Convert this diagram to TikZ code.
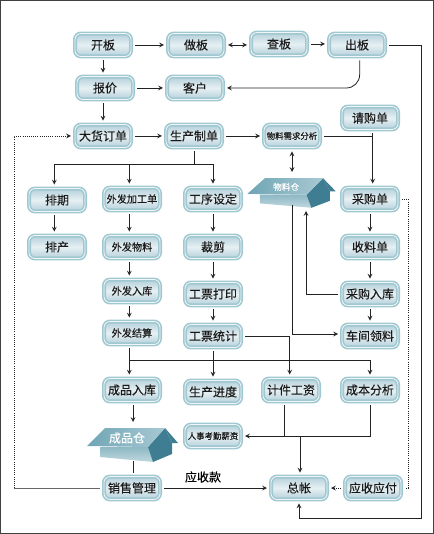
\documentclass[tikz,border=0pt]{standalone}
\usepackage{fontspec}
\setmainfont[FakeBold=0.25]{Noto Sans CJK SC}
\usetikzlibrary{arrows, positioning}
\definecolor{banedge}{HTML}{A0C8D0}
\definecolor{banfill}{HTML}{B4D0DA}
\definecolor{banmid}{HTML}{E6F0F3}
\definecolor{roofdark}{HTML}{3F7D92}
\definecolor{rooflight}{HTML}{6FA5B5}
\definecolor{wallfill}{HTML}{8DB8C4}
\definecolor{linecol}{HTML}{222222}

\begin{document}
\begin{tikzpicture}[
    x=0.75pt, y=-0.75pt,
    ban/.style={rectangle, rounded corners=4.5pt, draw=banedge, line width=1.2pt, double=white!85!banedge, double distance=0.6pt,
        top color=banfill, bottom color=banfill, middle color=banmid, minimum width=42pt, minimum height=17.2pt,
        inner sep=0pt, outer sep=3pt, text=black!90, font=\fontsize{9}{9}\selectfont},
    wai/.style={ban, font=\fontsize{7.6}{8}\selectfont},
    xiao/.style={ban, font=\fontsize{6.3}{7}\selectfont},
    lin/.style={draw=linecol, line width=0.6pt},
    arr/.style={lin, -stealth},
    shuang/.style={lin, stealth-stealth},
    dot/.style={draw=linecol, line width=0.6pt, densely dotted},
    cangku/.pic={
        \shade[top color=wallfill, bottom color=wallfill!55!white] (-33,2) -- (-33,12) -- (20,17) -- (20,2) -- cycle;
        \fill[roofdark] (20,17) -- (39,9) -- (39,-2) -- (32,-17) -- (15,2) -- cycle;
        \shade[left color=rooflight, right color=rooflight!60!white] (-46,1) -- (-28,-17) -- (32,-17) -- (15,2) -- cycle;
        \fill[roofdark] (32,-17) -- (45,-2) -- (39,-2) -- cycle;
        \node[text=white] (-label) at (-6,-7) {#1};
    }
]
\useasboundingbox (0,0) rectangle (434,534);
\draw[draw=black!75, line width=0.9pt] (0.5,0.5) rectangle (433.5,533.5);

% top rows
\node[ban] (kaiban) at (103,45) {开板};
\node[ban] (zuoban) at (196,45) {做板};
\node[ban] (chaban) at (279,44) {查板};
\node[ban] (chuban) at (357,45) {出板};
\node[ban] (baojia) at (105,88) {报价};
\node[ban] (kehu) at (195,88) {客户};
\node[ban] (dahuo) at (103,136) {大货订单};
\node[ban] (shengchan) at (194,136) {生产制单};
\node[xiao] (xuqiu) at (292,136) {物料需求分析};
\node[ban] (qinggou) at (370,118) {请购单};

% columns
\node[ban] (paiqi) at (57,200) {排期};
\node[ban] (paichan) at (57,247) {排产};
\node[wai] (jiagong) at (132,199) {外发加工单};
\node[wai] (wuliao) at (132,247) {外发物料};
\node[wai] (wairu) at (132,291) {外发入库};
\node[wai] (jiesuan) at (132,333) {外发结算};
\node[ban] (gongxu) at (213,199) {工序设定};
\node[ban] (caijian) at (213,247) {裁剪};
\node[ban] (dayin) at (213,294) {工票打印};
\node[ban] (tongji) at (213,336) {工票统计};
\node[ban] (caigou) at (370,199) {采购单};
\node[ban] (shouliao) at (370,247) {收料单};
\node[ban] (ruku) at (370,294) {采购入库};
\node[ban] (chejian) at (370,336) {车间领料};

% lower rows
\node[ban] (chengpin) at (132,390) {成品入库};
\node[ban] (jindu) at (213,392) {生产进度};
\node[ban] (jijian) at (291,390) {计件工资};
\node[ban] (chengben) at (370,390) {成本分析};
\node[xiao] (renshi) at (213,436) {人事考勤薪资};
\node[ban] (xiaoshou) at (132,488) {销售管理};
\node[ban] (zongzhang) at (299,488) {总帐};
\node[ban] (yingfu) at (373,488) {应收应付};
\node[font=\fontsize{9}{9}\selectfont] (yingshou) at (203,477) {应收款};

% warehouses
\pic (wlc) [xscale=0.97, yscale=0.87] at (292,193) {cangku={\fontsize{6.5}{7}\selectfont 物料仓}};
\pic (cpc) at (133,445) {cangku={\fontsize{9}{9}\selectfont 成品仓}};

% free ends
\coordinate (fenzhi) at (194,164);
\coordinate (huiru) at (372,137);
\coordinate (cangdi) at (292,205);
\coordinate (cangding) at (292,172);
\coordinate (cangru) at (306,211);
\coordinate (cprujin) at (133,422);
\coordinate (cpchu) at (133,461);
\coordinate (zuobian) at (14,488);
\coordinate (youbian) at (408,488);
\coordinate (youxia) at (421,518);
\coordinate (huizong) at (300,436);
\coordinate (jiehe) at (213,360);

\draw[arr] (kaiban) -- (zuoban);
\draw[shuang] (zuoban.east) -- (zuoban.east -| chaban.west);
\draw[arr] (chaban.east) -- (chaban.east -| chuban.west);
\draw[arr] (kaiban.south) -- (kaiban.south |- baojia.north);
\draw[arr] (baojia) -- (kehu);
\draw[arr] (kaiban.south |- baojia.south) -- (kaiban.south |- dahuo.north);
\draw[arr] (dahuo) -- (shengchan);
\draw[arr] (shengchan) -- (xuqiu);
\draw[arr, rounded corners=10pt] ([xshift=2pt]chuban.south) |- (kehu.east);
\draw[arr] (chuban.east) -| (youxia) -| (zongzhang.south);

\draw[lin] (shengchan.south) -- (fenzhi);
\draw[arr] (fenzhi) -| ([xshift=-2pt]paiqi.north);
\draw[arr] (fenzhi) -| ([xshift=-2pt]jiagong.north);
\draw[arr] (fenzhi) -| (gongxu.north);
\draw[arr] ([xshift=-2pt]paiqi.south) -- ([xshift=-2pt]paichan.north);
\draw[arr] ([xshift=-2pt]jiagong.south) -- ([xshift=-2pt]wuliao.north);
\draw[arr] ([xshift=-2pt]wuliao.south) -- ([xshift=-2pt]wairu.north);
\draw[arr] ([xshift=-2pt]wairu.south) -- ([xshift=-2pt]jiesuan.north);
\draw[arr] ([xshift=-2pt]jiesuan.south) -- ([xshift=-2pt]chengpin.north);
\draw[arr] (gongxu) -- (caijian);
\draw[arr] (caijian) -- (dayin);
\draw[arr] (dayin) -- (tongji);
\draw[arr] (tongji) -- (jindu);

\draw[lin] (xuqiu.east) -- (xuqiu.east -| huiru);
\draw[arr] ([xshift=2pt]qinggou.south) -- ([xshift=2pt]caigou.north);
\draw[shuang] (xuqiu.south) -- (cangding);
\draw[arr] (caigou) -- (shouliao);
\draw[arr] (shouliao) -- (ruku);
\draw[arr] (ruku) -- (chejian);
\draw[arr] (ruku.west) -| (cangru);
\draw[arr] (cangdi) |- ([yshift=1.5pt]chejian.west);

\draw[arr] (tongji.east) -| ([xshift=-1pt]jijian.north);
\draw[arr] (jiehe) -| (chengben.north);
\draw[lin] (jiehe) -- ++(-83,0);

\draw[arr] (chengpin.south -| cprujin) -- (cprujin);
\draw[lin] (cpchu) -- (cpchu |- xiaoshou.north);
\draw[arr] (xiaoshou.east) -- (zongzhang.west);
\draw[arr] (chengben.south) |- (renshi.east);
\draw[lin] ([xshift=-5pt]jijian.south) |- (huizong);
\draw[arr] (huizong) -- (zongzhang.north -| huizong);
\draw[dot, -stealth] (yingfu) -- (zongzhang);
\draw[dot] (caigou.east) -| (youbian) -- (yingfu.east);
\draw[draw=black!60, line width=0.5pt] (xiaoshou.west) -- (zuobian);
\draw[dot, -stealth] (zuobian) |- (dahuo.west);
\end{tikzpicture}
\end{document}
